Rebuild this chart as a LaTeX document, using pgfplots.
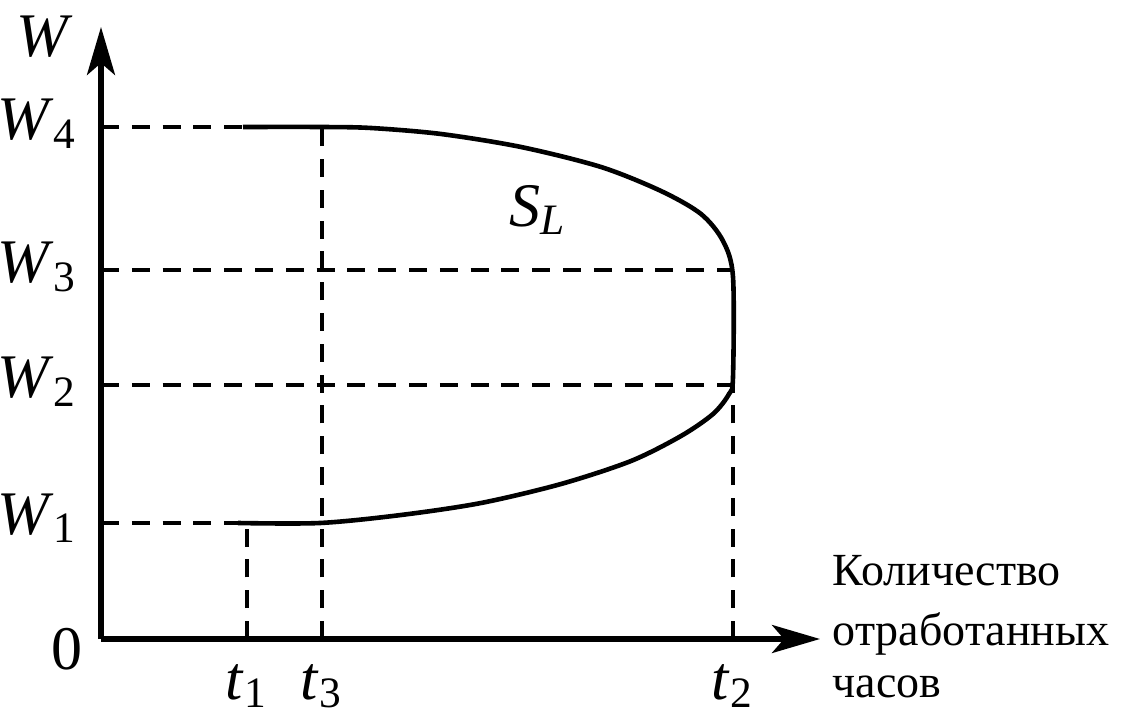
\documentclass[border=0pt]{standalone}
\usepackage{fontspec}
\setmainfont{Liberation Serif}
\usepackage{pgfplots}
\pgfplotsset{compat=1.18}
\usetikzlibrary{arrows.meta}
\newcommand\Lab{\fontsize{15.5}{19}\selectfont}
\newcommand\Tl{\fontsize{15.5}{19}\selectfont}
\newcommand\Txt{\fontsize{11.5}{14}\selectfont}
\begin{document}
\begin{tikzpicture}
\begin{axis}[
  scale only axis, width=179.75pt, height=153pt,
  xmin=0, xmax=719, ymin=0, ymax=612, enlargelimits=false,
  axis lines=left,
  axis line style={line width=1.3pt,-{Stealth[length=12pt,width=7pt,inset=3pt]}},
  xtick=\empty, ytick=\empty, clip=false,
  dashline/.style={black, line width=0.8pt, dash pattern=on 4.5pt off 3.2pt},
]
\path[use as bounding box] (axis cs:-101,-78) rectangle (axis cs:1021,639);
% dashed guides
\addplot[dashline] coordinates {(0,512) (142,512)};
\addplot[dashline] coordinates {(0,369) (632,369)};
\addplot[dashline] coordinates {(0,254) (632,254)};
\addplot[dashline] coordinates {(0,116) (139,116)};
\addplot[dashline] coordinates {(146,0) (146,116)};
\addplot[dashline] coordinates {(221,0) (221,512)};
\addplot[dashline] coordinates {(632,0) (632,254)};
% labour supply curve
\addplot[black, line width=1.15pt, smooth, tension=0.5] coordinates {
 (137,116) (219,116) (300,124) (380,136) (460,155) (530,178) (580,203)
 (612,225) (628,245) (632,262) (632,362) (622,398) (600,425) (560,448)
 (500,472) (420,492) (340,505) (270,511) (219,512) (142,512)};
% labels
\node[anchor=base east, inner sep=0, font=\Lab] at (axis cs:-23,499) {\textit{W}\textsubscript{4}};
\node[anchor=base east, inner sep=0, font=\Lab] at (axis cs:-23,356) {\textit{W}\textsubscript{3}};
\node[anchor=base east, inner sep=0, font=\Lab] at (axis cs:-23,241) {\textit{W}\textsubscript{2}};
\node[anchor=base east, inner sep=0, font=\Lab] at (axis cs:-23,105) {\textit{W}\textsubscript{1}};
\node[anchor=center, inner sep=0, font=\Lab] at (axis cs:-56,602) {\textit{W}};
\node[anchor=base, inner sep=0, font=\Tl] at (axis cs:-34,-30) {0};
\node[anchor=base, inner sep=0, font=\Tl] at (axis cs:146,-60) {\textit{t}\textsubscript{1}};
\node[anchor=base, inner sep=0, font=\Tl] at (axis cs:221,-60) {\textit{t}\textsubscript{3}};
\node[anchor=base, inner sep=0, font=\Tl] at (axis cs:632,-60) {\textit{t}\textsubscript{2}};
\node[anchor=center, inner sep=0, font=\Lab] at (axis cs:437,429) {\textit{S}\textsubscript{\textit{L}}};
\node[anchor=base west, inner sep=0, font=\Txt] at (axis cs:731,54) {Количество};
\node[anchor=base west, inner sep=0, font=\Txt] at (axis cs:731,-6) {отработанных};
\node[anchor=base west, inner sep=0, font=\Txt] at (axis cs:731,-58) {часов};
\end{axis}
\end{tikzpicture}
\end{document}
